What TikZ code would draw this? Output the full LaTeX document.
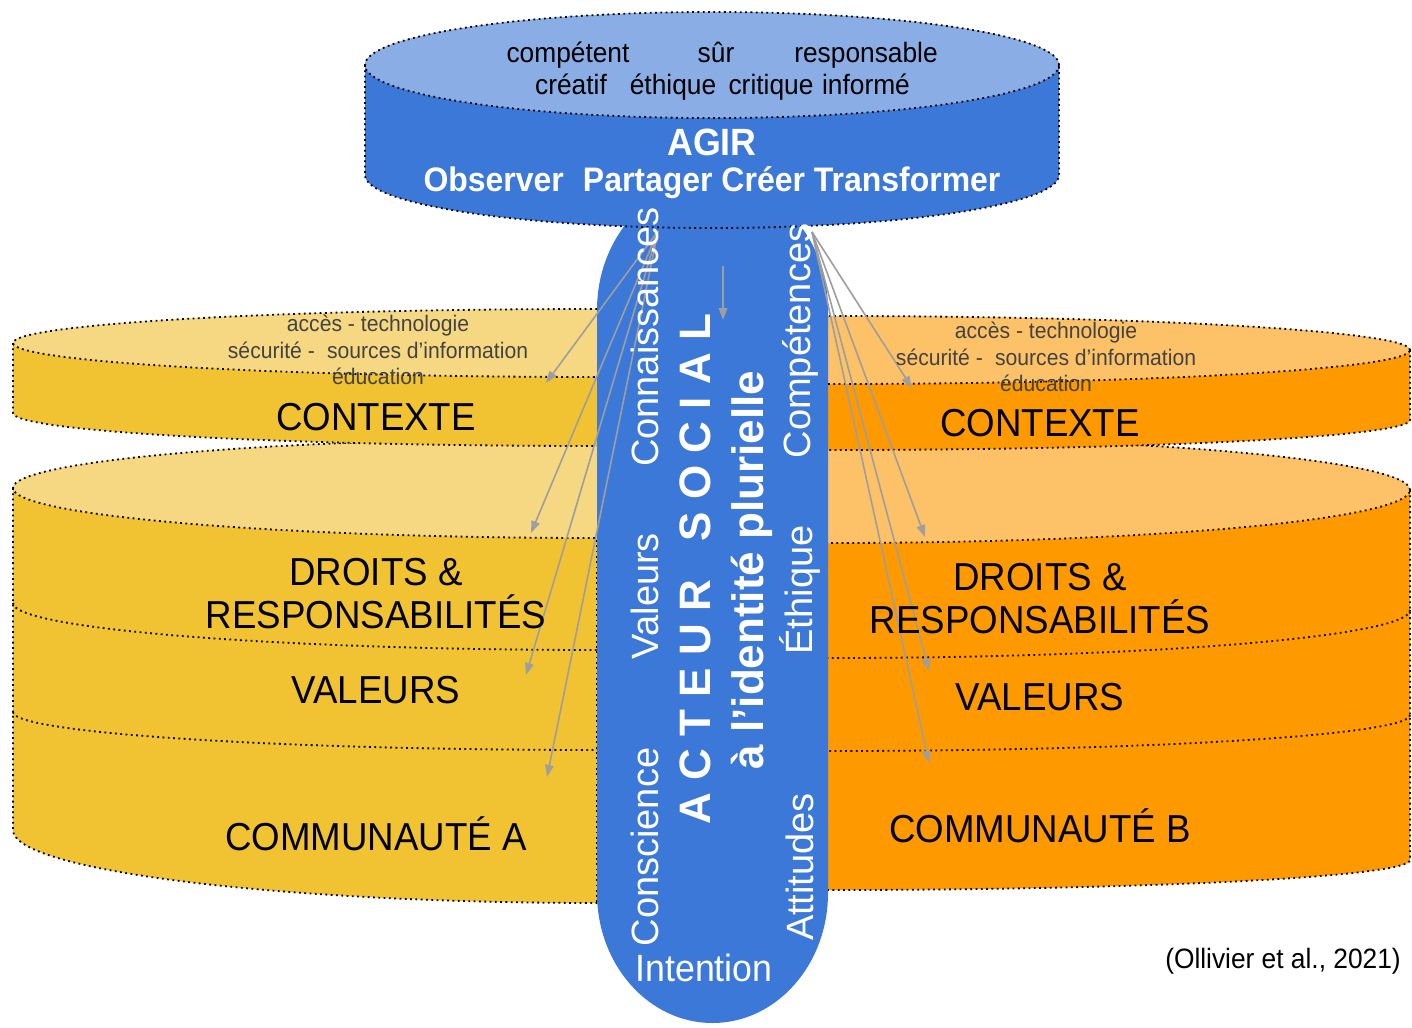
\documentclass[tikz,border=0pt]{standalone}
\usepackage{fontspec}
\setmainfont{Liberation Sans}[FakeStretch=0.94]
\newfontfamily\rotfont{Liberation Sans}
\usetikzlibrary{arrows.meta}
\definecolor{bluedark}{HTML}{3C78D8}
\definecolor{bluelight}{HTML}{8AADE6}
\definecolor{yeldark}{HTML}{F1C232}
\definecolor{yellight}{HTML}{F6D883}
\definecolor{ordark}{HTML}{FF9900}
\definecolor{orlight}{HTML}{FDC167}
\definecolor{txtgray}{HTML}{434343}
\definecolor{arrgray}{HTML}{9E9E9E}
\tikzset{
  dotline/.style={draw=black, line width=1.8pt, dash pattern=on 1.8pt off 3.5pt},
  conn/.style={draw=arrgray, line width=1.6pt, -{Triangle[length=12pt,width=8.5pt]}},
  smalltxt/.style={text=txtgray, align=center, inner sep=0pt, font=\fontsize{22.5}{26.5}\selectfont},
  bigtxt/.style={text=black, align=center, inner sep=0pt, font=\fontsize{39}{43}\selectfont},
  toptxt/.style={text=black, inner sep=0pt, anchor=base, font=\fontsize{28}{32}\selectfont},
  boldtxt/.style={text=white, inner sep=0pt, font=\bfseries\fontsize{34}{40}\selectfont},
  rottxt/.style={text=white, inner sep=0pt, rotate=90, font=\rotfont\fontsize{38}{44}\selectfont},
  rotbold/.style={text=white, inner sep=0pt, rotate=90, font=\rotfont\bfseries\fontsize{44}{50}\selectfont},
}
\begin{document}
\begin{tikzpicture}[x=1pt,y=1pt]
\useasboundingbox (0,0) rectangle (1412,-1027);

% ---------- left stack (community A) ----------
\begin{scope}
\clip (0,0) rectangle (612,-1027);
% lower cylinder
\fill[yeldark] (13,-488) -- (13,-830) arc[start angle=180,end angle=360,x radius=587,y radius=73]
  -- (1187,-488) arc[start angle=0,end angle=180,x radius=587,y radius=50] -- cycle;
\fill[yellight] (600,-488) ellipse[x radius=587,y radius=50];
\draw[dotline] (600,-488) ellipse[x radius=587,y radius=50];
\draw[dotline] (13,-488) -- (13,-830) arc[start angle=180,end angle=360,x radius=587,y radius=73];
\draw[dotline] (13,-603) arc[start angle=180,end angle=360,x radius=587,y radius=47];
\draw[dotline] (13,-712) arc[start angle=180,end angle=360,x radius=587,y radius=38];
\draw[dotline] (597,-540) -- (597,-905);
% upper cylinder
\fill[yeldark] (13,-343) -- (13,-413) arc[start angle=180,end angle=360,x radius=587,y radius=33]
  -- (1187,-343) arc[start angle=0,end angle=180,x radius=587,y radius=34] -- cycle;
\fill[yellight] (600,-343) ellipse[x radius=587,y radius=34];
\draw[dotline] (600,-343) ellipse[x radius=587,y radius=34];
\draw[dotline] (13,-343) -- (13,-413) arc[start angle=180,end angle=360,x radius=587,y radius=33];
\end{scope}

% ---------- right stack (community B) ----------
\begin{scope}
\clip (813,0) rectangle (1412,-1027);
% lower cylinder
\fill[ordark] (1410,-490) -- (1410,-860) arc[start angle=0,end angle=-180,x radius=580,y radius=30]
  -- (250,-490) arc[start angle=180,end angle=0,x radius=580,y radius=53] -- cycle;
\fill[orlight] (830,-490) ellipse[x radius=580,y radius=53];
\draw[dotline] (830,-490) ellipse[x radius=580,y radius=53];
\draw[dotline] (1410,-490) -- (1410,-860) arc[start angle=0,end angle=-180,x radius=580,y radius=30];
\draw[dotline] (1410,-610) arc[start angle=0,end angle=-180,x radius=580,y radius=48];
\draw[dotline] (1410,-715) arc[start angle=0,end angle=-180,x radius=580,y radius=36];
% upper cylinder
\fill[ordark] (1410,-350) -- (1410,-420) arc[start angle=0,end angle=-180,x radius=580,y radius=30]
  -- (250,-350) arc[start angle=180,end angle=0,x radius=580,y radius=34] -- cycle;
\fill[orlight] (830,-350) ellipse[x radius=580,y radius=34];
\draw[dotline] (830,-350) ellipse[x radius=580,y radius=34];
\draw[dotline] (1410,-350) -- (1410,-420) arc[start angle=0,end angle=-180,x radius=580,y radius=30];
\end{scope}

% ---------- central pill ----------
\fill[bluedark] (597,-310) -- (597,-893) arc[start angle=180,end angle=360,x radius=115.5,y radius=130]
  -- (828,-310) arc[start angle=0,end angle=180,x radius=115.5,y radius=130] -- cycle;

% ---------- top cylinder (AGIR) ----------
\fill[bluedark] (365,-65) -- (365,-175) arc[start angle=180,end angle=360,x radius=347,y radius=53]
  -- (1059,-65) arc[start angle=0,end angle=180,x radius=347,y radius=53] -- cycle;
\fill[bluelight] (712,-65) ellipse[x radius=347,y radius=53];
\draw[dotline] (712,-65) ellipse[x radius=347,y radius=53];
\draw[dotline] (365,-65) -- (365,-175) arc[start angle=180,end angle=360,x radius=347,y radius=53] -- (1059,-65);

% ---------- arrows ----------
\coordinate (srcL) at (658,-231);
\coordinate (tL1) at (546,-383);
\coordinate (tL2) at (531,-533);
\coordinate (tL3) at (526,-675);
\coordinate (tL4) at (547,-777);
\coordinate (srcR) at (812,-232);
\coordinate (tR1) at (912,-388);
\coordinate (tR2) at (925,-537);
\coordinate (tR3) at (929,-671);
\coordinate (tR4) at (929,-763);
\coordinate (sA) at (723,-266);
\coordinate (sB) at (723,-320);
\foreach \t in {tL1,tL2,tL3,tL4} \draw[conn] (srcL) -- (\t);
\foreach \t in {tR1,tR2,tR3,tR4} \draw[conn] (srcR) -- (\t);
\draw[conn] (sA) -- (sB);

% ---------- texts: top cylinder ----------
\node[toptxt] (w1) at (568,-63) {compétent};
\node[toptxt] (w2) at (716,-63) {sûr};
\node[toptxt] (w3) at (866,-63) {responsable};
\node[toptxt] (w4) at (571,-95) {créatif};
\node[toptxt] (w5) at (673,-95) {éthique};
\node[toptxt] (w6) at (771,-95) {critique};
\node[toptxt] (w7) at (866,-95) {informé};
\node[boldtxt, font=\bfseries\fontsize{38}{44}\selectfont] (agir) at (712,-142) {AGIR};
\node[boldtxt] (verbs) at (712,-183) {Observer\hspace{0.3em} Partager Créer Transformer};

% ---------- texts: left stack ----------
\node[smalltxt] (ctxA) at (378,-350) {accès - technologie\\sécurité -\hspace{0.28em} sources d’information\\éducation};
\node[bigtxt] (contexteA) at (376,-417) {CONTEXTE};
\node[bigtxt] (droitsA) at (376,-594) {DROITS \&\\RESPONSABILITÉS};
\node[bigtxt] (valeursA) at (376,-690) {VALEURS};
\node[bigtxt] (commA) at (376,-834) {COMMUNAUTÉ A};

% ---------- texts: right stack ----------
\node[smalltxt] (ctxB) at (1046,-357) {accès - technologie\\sécurité -\hspace{0.28em} sources d’information\\éducation};
\node[bigtxt] (contexteB) at (1040,-423) {CONTEXTE};
\node[bigtxt] (droitsB) at (1040,-599) {DROITS \&\\RESPONSABILITÉS};
\node[bigtxt] (valeursB) at (1040,-697) {VALEURS};
\node[bigtxt] (commB) at (1040,-826) {COMMUNAUTÉ B};

% ---------- texts: central pill ----------
\node[rottxt] (conn) at (645,-337) {Connaissances};
\node[rottxt] (val) at (645,-596) {Valeurs};
\node[rottxt] (consc) at (645,-847) {Conscience};
\node[rotbold] (acteur) at (695,-569) {A C T E U R\hspace{0.6em} S O C I A L};
\node[rotbold] (ident) at (752,-570) {à l’identité plurielle};
\node[rottxt] (comp) at (800,-341) {Compétences};
\node[rottxt] (eth) at (800,-590) {Éthique};
\node[rottxt] (att) at (800,-867) {Attitudes};
\node[text=white, inner sep=0pt, font=\fontsize{38}{44}\selectfont] (intent) at (704,-968) {Intention};

% ---------- citation ----------
\node[text=black, inner sep=0pt, font=\fontsize{28}{32}\selectfont] (cite) at (1283,-961) {(Ollivier et al., 2021)};
\end{tikzpicture}
\end{document}
